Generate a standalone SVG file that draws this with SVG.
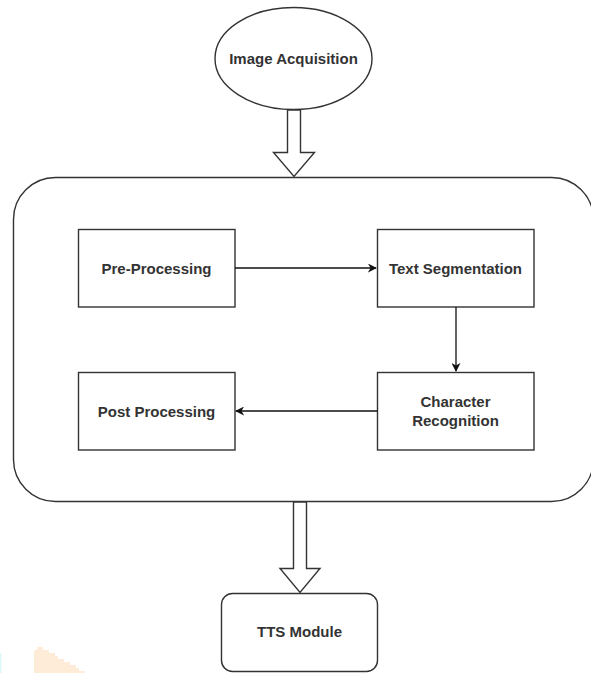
<svg xmlns="http://www.w3.org/2000/svg" width="591" height="673" viewBox="0 0 591 673">
<style>
.shape{fill:#fff;stroke:#333;stroke-width:1.4}
.lbl{font-family:"Liberation Sans",Arial,sans-serif;font-size:15px;font-weight:bold;fill:#333;text-anchor:middle}
.conn{stroke:#111;stroke-width:1.3;fill:none}
</style>
<defs>
<marker id="ah" viewBox="0 0 10 10" refX="9" refY="5" markerWidth="9" markerHeight="9" markerUnits="userSpaceOnUse" orient="auto">
<path d="M0,0 L10,5 L0,10 L3,5 Z" fill="#111"/>
</marker>
</defs>
<rect width="591" height="673" fill="#fff"/>
<polygon points="34,650 37,650 37,647 43,647 43,650 49,650 49,653 55,653 55,656 58,656 58,659 64,659 64,662 70,662 70,665 76,665 76,668 79,668 79,671 85,671 85,673 34,673" fill="#feebd8"/>
<rect x="0" y="653" width="1.5" height="20" fill="#dff9fb"/>
<g id="container">
<rect class="shape" x="13.5" y="177.5" width="580" height="324" rx="42" ry="42"/>
</g>
<g id="image-acquisition">
<ellipse class="shape" cx="293.5" cy="58.5" rx="78.5" ry="51"/>
<text class="lbl" x="293.5" y="64">Image Acquisition</text>
</g>
<g id="pre-processing">
<rect class="shape" x="78.5" y="229.5" width="156.5" height="77.5"/>
<text class="lbl" x="156.5" y="273.5">Pre-Processing</text>
</g>
<g id="text-segmentation">
<rect class="shape" x="377.5" y="229.5" width="156.5" height="77.5"/>
<text class="lbl" x="455.5" y="273.5">Text Segmentation</text>
</g>
<g id="character-recognition">
<rect class="shape" x="377.5" y="372.5" width="156.5" height="77.5"/>
<text class="lbl" x="455.5" y="407">Character</text>
<text class="lbl" x="455.5" y="425.5">Recognition</text>
</g>
<g id="post-processing">
<rect class="shape" x="78.5" y="372.5" width="156.5" height="77.5"/>
<text class="lbl" x="156.5" y="416.5">Post Processing</text>
</g>
<g id="tts-module">
<rect class="shape" x="221.5" y="593.5" width="156" height="78" rx="11" ry="11"/>
<text class="lbl" x="299.5" y="637">TTS Module</text>
</g>
<g id="connectors">
<polygon class="shape" points="287.5,110 300.5,110 300.5,152.5 314.5,152.5 294,176.5 273.5,152.5 287.5,152.5"/>
<polygon class="shape" points="293.5,502 306.5,502 306.5,568.5 320,568.5 300,592.5 280,568.5 293.5,568.5"/>
<line class="conn" x1="235" y1="268" x2="376" y2="268" marker-end="url(#ah)"/>
<line class="conn" x1="456" y1="307" x2="456" y2="371" marker-end="url(#ah)"/>
<line class="conn" x1="377.5" y1="411" x2="236" y2="411" marker-end="url(#ah)"/>
</g>
</svg>
